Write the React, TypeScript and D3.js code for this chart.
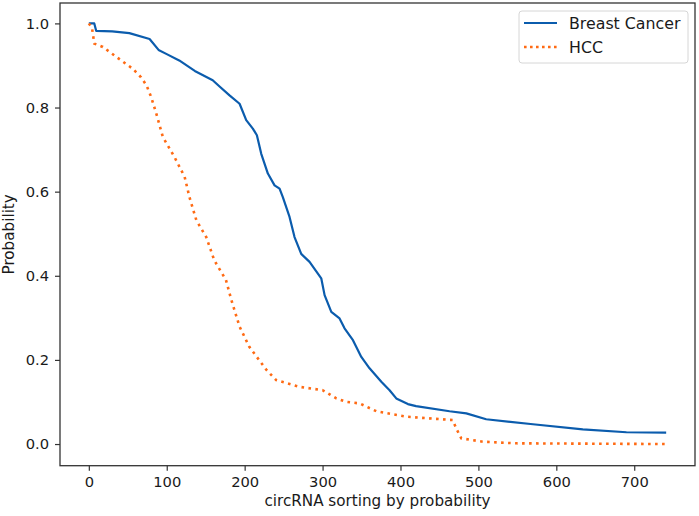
import React, { useEffect, useRef } from 'react';
import * as d3 from 'd3';

// circRNA rank (x) and predicted probability (y)
const bcRank = [0, 7, 9.5, 30, 52, 78, 89.5, 100, 116, 136, 159, 167.8, 180.6, 193.5, 202, 210.5, 215.7, 221.3, 229.8, 238.4, 244.8, 249, 257.6, 264, 272.6, 283.3, 298.3, 302.6, 311.2, 321.8, 328.2, 339, 349.7, 360.3, 375.4, 386, 394.6, 409.5, 420, 463, 484.5, 510, 570, 634, 690, 741];
const bcProb = [1.0, 1.0, 0.982, 0.981, 0.977, 0.963, 0.937, 0.927, 0.912, 0.887, 0.865, 0.85, 0.829, 0.809, 0.77, 0.75, 0.734, 0.69, 0.643, 0.615, 0.607, 0.587, 0.54, 0.492, 0.452, 0.433, 0.394, 0.354, 0.314, 0.2985, 0.275, 0.247, 0.207, 0.18, 0.148, 0.128, 0.1085, 0.095, 0.09, 0.078, 0.073, 0.059, 0.047, 0.035, 0.028, 0.027];

const hccRank = [0, 4, 7, 18, 41.6, 56.5, 67, 74, 80, 86.5, 95, 110, 123, 129, 138, 150.7, 161, 176, 183, 193.5, 206, 228, 240.5, 270.5, 300, 317.6, 330, 347.5, 369, 407.5, 467, 471.6, 478, 506, 548.7, 741];
const hccProb = [1.0, 0.99, 0.952, 0.944, 0.912, 0.892, 0.872, 0.853, 0.825, 0.786, 0.73, 0.682, 0.635, 0.588, 0.532, 0.492, 0.437, 0.39, 0.342, 0.279, 0.231, 0.176, 0.152, 0.136, 0.128, 0.1086, 0.1005, 0.0966, 0.078, 0.065, 0.057, 0.037, 0.0135, 0.0055, 0.0017, 0.0];

const seriesNames = ['Breast Cancer', 'HCC'];
const xTicks = [0, 100, 200, 300, 400, 500, 600, 700];
const yTicks = [0, 0.2, 0.4, 0.6, 0.8, 1.0];

const W = 699;
const H = 516;
const FONT = '"DejaVu Sans", sans-serif';
const BLUE = '#0b5cad';
const ORANGE = '#ff6a13';

const App: React.FC = () => {
  const ref = useRef<SVGSVGElement | null>(null);

  useEffect(() => {
    if (!ref.current) return;
    const svg = d3.select(ref.current);
    svg.selectAll('*').remove();

    const m = { left: 60, right: 4, top: 3, bottom: 50.3 };
    const x = d3.scaleLinear().domain([-37, 778]).range([m.left, W - m.right]);
    const y = d3.scaleLinear().domain([-0.0515, 1.0485]).range([H - m.bottom, m.top]);

    const line = d3
      .line<[number, number]>()
      .x((d) => x(d[0]))
      .y((d) => y(d[1]));

    const bc = bcRank.map((r, i) => [r, bcProb[i]] as [number, number]);
    const hcc = hccRank.map((r, i) => [r, hccProb[i]] as [number, number]);

    svg
      .append('path')
      .attr('d', line(bc))
      .attr('fill', 'none')
      .attr('stroke', BLUE)
      .attr('stroke-width', 2.2)
      .attr('stroke-linejoin', 'round');

    svg
      .append('path')
      .attr('d', line(hcc))
      .attr('fill', 'none')
      .attr('stroke', ORANGE)
      .attr('stroke-width', 2.6)
      .attr('stroke-dasharray', '2.6 4.4');

    // frame
    svg
      .append('rect')
      .attr('x', m.left)
      .attr('y', m.top)
      .attr('width', W - m.right - m.left)
      .attr('height', H - m.bottom - m.top)
      .attr('fill', 'none')
      .attr('stroke', '#333')
      .attr('stroke-width', 1.3);

    const xAxis = svg
      .append('g')
      .attr('transform', `translate(0,${H - m.bottom})`)
      .call(d3.axisBottom(x).tickValues(xTicks).tickSize(5).tickSizeOuter(0).tickPadding(6).tickFormat(d3.format('d')));
    const yAxis = svg
      .append('g')
      .attr('transform', `translate(${m.left},0)`)
      .call(d3.axisLeft(y).tickValues(yTicks).tickSize(5).tickSizeOuter(0).tickPadding(6).tickFormat(d3.format('.1f')));

    [xAxis, yAxis].forEach((g) => {
      g.select('.domain').remove();
      g.selectAll('line').attr('stroke', '#333').attr('stroke-width', 1.2);
      g.selectAll('text').attr('font-family', FONT).attr('font-size', 14.7).attr('fill', '#1a1a1a');
    });

    svg
      .append('text')
      .attr('x', (m.left + W - m.right) / 2)
      .attr('y', 506)
      .attr('text-anchor', 'middle')
      .attr('font-family', FONT)
      .attr('font-size', 15.2)
      .attr('fill', '#1a1a1a')
      .text('circRNA sorting by probability');

    svg
      .append('text')
      .attr('transform', `translate(14,${(m.top + H - m.bottom) / 2}) rotate(-90)`)
      .attr('text-anchor', 'middle')
      .attr('font-family', FONT)
      .attr('font-size', 15.2)
      .attr('fill', '#1a1a1a')
      .text('Probability');

    // legend
    const legend = svg.append('g').attr('transform', 'translate(519,11)');
    legend
      .append('rect')
      .attr('width', 169)
      .attr('height', 52)
      .attr('rx', 3)
      .attr('fill', '#fff')
      .attr('fill-opacity', 0.8)
      .attr('stroke', '#d6d6d6')
      .attr('stroke-width', 1);

    const items = legend
      .selectAll('g.item')
      .data(seriesNames)
      .enter()
      .append('g')
      .attr('class', 'item')
      .attr('transform', (_d, i) => `translate(0,${12 + i * 24})`);
    items
      .append('line')
      .attr('x1', 5)
      .attr('x2', 38)
      .attr('stroke', (_d, i) => (i === 0 ? BLUE : ORANGE))
      .attr('stroke-width', (_d, i) => (i === 0 ? 2.2 : 2.6))
      .attr('stroke-dasharray', (_d, i) => (i === 0 ? null : '2.6 3.4'));
    items
      .append('text')
      .attr('x', 50)
      .attr('dy', '0.36em')
      .attr('font-family', FONT)
      .attr('font-size', 15.8)
      .attr('fill', '#1a1a1a')
      .text((d) => d);
  }, []);

  return (
    <svg
      ref={ref}
      width={W}
      height={H}
      style={{ position: 'absolute', left: 0, top: 0, background: '#fff', display: 'block' }}
    />
  );
};

export default App;
